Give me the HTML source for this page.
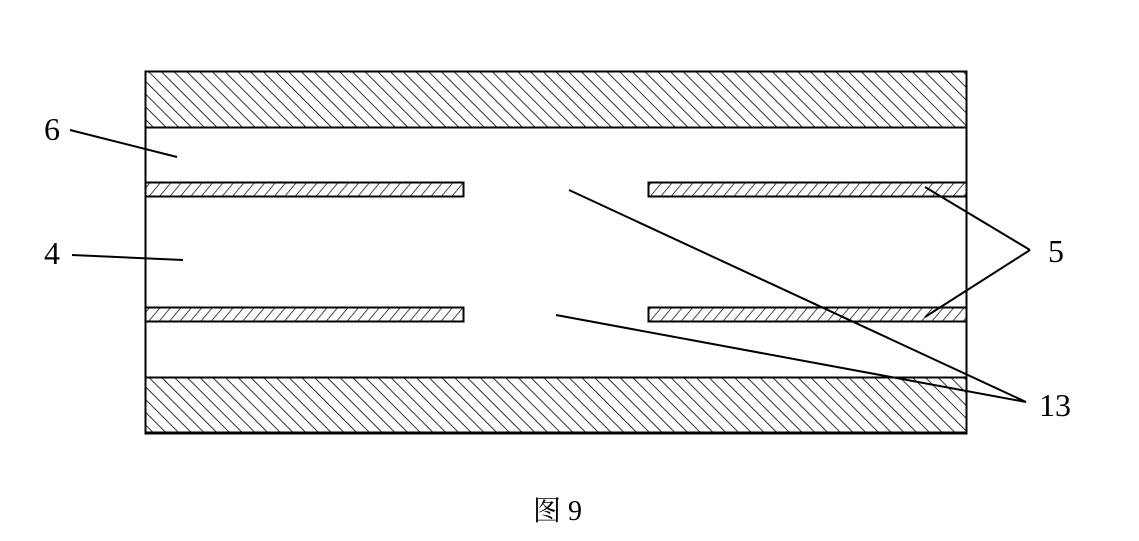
<!DOCTYPE html>
<html><head><meta charset="utf-8"><style>
html,body{margin:0;padding:0;background:#fff;}
svg{display:block;}
text{font-family:"Liberation Serif","Noto Serif CJK SC",serif;fill:#000;}
</style></head><body>
<svg width="1139" height="541" viewBox="0 0 1139 541" xmlns="http://www.w3.org/2000/svg">
<defs>
<pattern id="bk" patternUnits="userSpaceOnUse" width="9" height="9" patternTransform="rotate(-45)">
<line x1="0" y1="0" x2="0" y2="9" stroke="#000" stroke-width="1.6"/>
</pattern>
<pattern id="fw" patternUnits="userSpaceOnUse" width="8" height="8" patternTransform="rotate(40)">
<line x1="0" y1="0" x2="0" y2="8" stroke="#000" stroke-width="1.4"/>
</pattern>
</defs>
<rect x="145.5" y="71.5" width="821" height="361" fill="#fff" stroke="#000" stroke-width="2"/>
<rect x="145.5" y="71.5" width="821" height="56" fill="url(#bk)" stroke="#000" stroke-width="2"/>
<rect x="145.5" y="377.5" width="821" height="56" fill="url(#bk)" stroke="#000" stroke-width="2"/>
<rect x="145.5" y="182.5" width="318" height="14" fill="url(#fw)" stroke="#000" stroke-width="2"/>
<rect x="648.5" y="182.5" width="318" height="14" fill="url(#fw)" stroke="#000" stroke-width="2"/>
<rect x="145.5" y="307.5" width="318" height="14" fill="url(#fw)" stroke="#000" stroke-width="2"/>
<rect x="648.5" y="307.5" width="318" height="14" fill="url(#fw)" stroke="#000" stroke-width="2"/>
<g stroke="#000" stroke-width="2" fill="none">
<line x1="70" y1="130" x2="177" y2="157"/>
<line x1="72" y1="255" x2="183" y2="260"/>
<line x1="1030" y1="250" x2="925" y2="187"/>
<line x1="1030" y1="250" x2="925" y2="317"/>
<line x1="1026" y1="402" x2="569" y2="190"/>
<line x1="1026" y1="402" x2="556" y2="315"/>
</g>
<text x="44" y="140" font-size="32">6</text>
<text x="44" y="264" font-size="32">4</text>
<text x="1048" y="262" font-size="32">5</text>
<text x="1039" y="416" font-size="32">13</text>
<text x="533" y="520" font-size="28">图 9</text>
</svg>
</body></html>
